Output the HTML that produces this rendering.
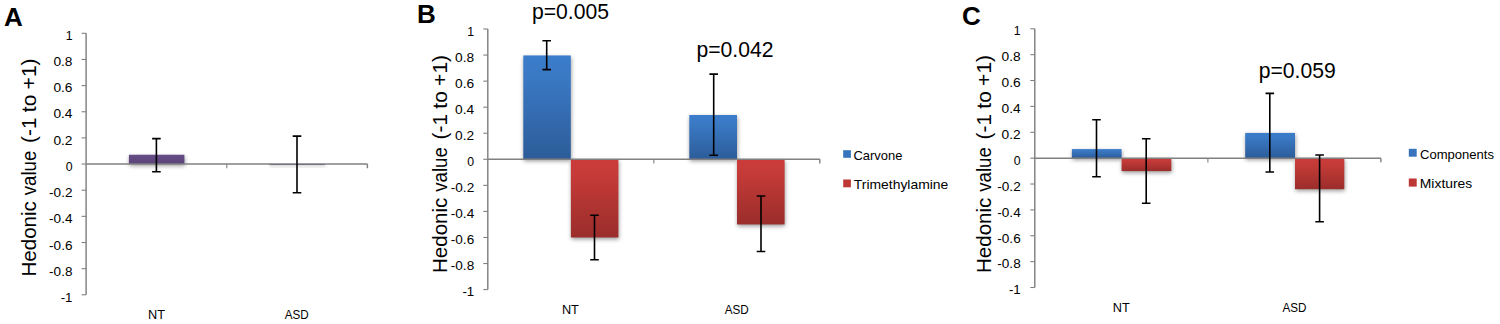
<!DOCTYPE html>
<html lang="en">
<head>
<meta charset="utf-8">
<title>Hedonic value charts</title>
<style>
html,body{margin:0;padding:0;background:#fff;}
body{width:1500px;height:324px;overflow:hidden;}
svg{display:block;}
text{font-family:"Liberation Sans",sans-serif;fill:#000;}
.pl{font-size:26px;font-weight:bold;}
.tk{font-size:12.3px;}
.ct{font-size:12.6px;}
.yt{font-size:19.7px;}
.pv{font-size:21.4px;}
.lg{font-size:13.3px;}
.ax{stroke:#808080;stroke-width:1.45;fill:none;}
.tkm{stroke:#808080;stroke-width:1.1;fill:none;}
.eb{stroke:#000;stroke-width:1.6;fill:none;}
</style>
</head>
<body>
<svg width="1500" height="324" viewBox="0 0 1500 324">
<defs>
<linearGradient id="gb" x1="0" y1="0" x2="0" y2="1"><stop offset="0" stop-color="#3b7dcb"/><stop offset="0.2" stop-color="#3a79c4"/><stop offset="1" stop-color="#2c5c99"/></linearGradient>
<linearGradient id="gr" x1="0" y1="0" x2="0" y2="1"><stop offset="0" stop-color="#cb3c39"/><stop offset="0.2" stop-color="#c53b38"/><stop offset="1" stop-color="#9a2d2b"/></linearGradient>
<linearGradient id="gp" x1="0" y1="0" x2="0" y2="1"><stop offset="0" stop-color="#654c86"/><stop offset="1" stop-color="#5b437a"/></linearGradient>
<filter id="sh" x="-20%" y="-50%" width="140%" height="200%"><feGaussianBlur stdDeviation="1.9"/></filter>
</defs>
<rect width="1500" height="324" fill="#fff"/>

<text x="4" y="26.3" class="pl">A</text>
<rect x="129.4" y="156.57" width="55.5" height="9.28" fill="#000" opacity="0.4" filter="url(#sh)"/>
<rect x="269.9" y="165.85" width="55.6" height="1.05" fill="#000" opacity="0.4" filter="url(#sh)"/>
<rect x="128.9" y="154.77" width="55.5" height="9.28" fill="url(#gp)"/>
<rect x="269.4" y="164.05" width="55.6" height="1.05" fill="url(#gp)"/>
<path d="M86.1 33.3V294.8" class="ax"/>
<path d="M86.1 164.05H367.5" class="ax"/>
<path d="M81.6 33.3H86.1" class="tkm"/>
<text x="72.5" y="39.7" class="tk" text-anchor="end">1</text>
<path d="M81.6 59.45H86.1" class="tkm"/>
<text x="72.5" y="65.95" class="tk" text-anchor="end" textLength="19.1" lengthAdjust="spacingAndGlyphs">0.8</text>
<path d="M81.6 85.6H86.1" class="tkm"/>
<text x="72.5" y="92.2" class="tk" text-anchor="end" textLength="19.1" lengthAdjust="spacingAndGlyphs">0.6</text>
<path d="M81.6 111.75H86.1" class="tkm"/>
<text x="72.5" y="118.45" class="tk" text-anchor="end" textLength="19.1" lengthAdjust="spacingAndGlyphs">0.4</text>
<path d="M81.6 137.9H86.1" class="tkm"/>
<text x="72.5" y="144.7" class="tk" text-anchor="end" textLength="19.1" lengthAdjust="spacingAndGlyphs">0.2</text>
<path d="M81.6 164.05H86.1" class="tkm"/>
<text x="72.5" y="170.95" class="tk" text-anchor="end">0</text>
<path d="M81.6 190.2H86.1" class="tkm"/>
<text x="72.5" y="197.2" class="tk" text-anchor="end" textLength="23.4" lengthAdjust="spacingAndGlyphs">-0.2</text>
<path d="M81.6 216.35H86.1" class="tkm"/>
<text x="72.5" y="223.45" class="tk" text-anchor="end" textLength="23.4" lengthAdjust="spacingAndGlyphs">-0.4</text>
<path d="M81.6 242.5H86.1" class="tkm"/>
<text x="72.5" y="249.7" class="tk" text-anchor="end" textLength="23.4" lengthAdjust="spacingAndGlyphs">-0.6</text>
<path d="M81.6 268.65H86.1" class="tkm"/>
<text x="72.5" y="275.95" class="tk" text-anchor="end" textLength="23.4" lengthAdjust="spacingAndGlyphs">-0.8</text>
<path d="M81.6 294.8H86.1" class="tkm"/>
<text x="72.5" y="302.2" class="tk" text-anchor="end" textLength="11.8" lengthAdjust="spacingAndGlyphs">-1</text>
<path d="M226.8 164.05V168.35" class="tkm"/>
<path d="M367.4 164.05V168.25" class="ax"/>
<path d="M156.4 138.6V171.7M152.1 138.6H160.7M152.1 171.7H160.7" class="eb"/>
<path d="M297 136.1V192.8M292.7 136.1H301.3M292.7 192.8H301.3" class="eb"/>
<text x="156.5" y="319" class="ct" text-anchor="middle" textLength="17" lengthAdjust="spacingAndGlyphs">NT</text>
<text x="296.8" y="319" class="ct" text-anchor="middle" textLength="24" lengthAdjust="spacingAndGlyphs">ASD</text>
<text transform="translate(36.2 275) rotate(-90)" x="-1.6" y="0" class="yt" textLength="75.5" lengthAdjust="spacingAndGlyphs">Hedonic</text>
<text transform="translate(36.2 275) rotate(-90)" x="79.8" y="0" class="yt" textLength="44.5" lengthAdjust="spacingAndGlyphs">value</text>
<text transform="translate(36.2 275) rotate(-90)" x="132" y="0" class="yt" textLength="25.5" lengthAdjust="spacingAndGlyphs">(-1</text>
<text transform="translate(36.2 275) rotate(-90)" x="162.8" y="0" class="yt" textLength="17.5" lengthAdjust="spacingAndGlyphs">to</text>
<text transform="translate(36.2 275) rotate(-90)" x="185.6" y="0" class="yt" textLength="31" lengthAdjust="spacingAndGlyphs">+1)</text>
<text x="417" y="22.8" class="pl">B</text>
<rect x="523.8" y="57.25" width="47.5" height="103.85" fill="#000" opacity="0.4" filter="url(#sh)"/>
<rect x="571.4" y="161.1" width="47.5" height="78.18" fill="#000" opacity="0.4" filter="url(#sh)"/>
<rect x="689.8" y="116.8" width="47.7" height="44.3" fill="#000" opacity="0.4" filter="url(#sh)"/>
<rect x="737.5" y="161.1" width="47.6" height="65.15" fill="#000" opacity="0.4" filter="url(#sh)"/>
<rect x="523.3" y="55.45" width="47.5" height="103.85" fill="url(#gb)"/>
<rect x="570.9" y="159.3" width="47.5" height="78.18" fill="url(#gr)"/>
<rect x="689.3" y="115" width="47.7" height="44.3" fill="url(#gb)"/>
<rect x="737" y="159.3" width="47.6" height="65.15" fill="url(#gr)"/>
<path d="M487.8 29V289.6" class="ax"/>
<path d="M487.8 159.3H819.9" class="ax"/>
<path d="M483.3 29H487.8" class="tkm"/>
<text x="474.2" y="36" class="tk" text-anchor="end">1</text>
<path d="M483.3 55.06H487.8" class="tkm"/>
<text x="474.2" y="62.04" class="tk" text-anchor="end" textLength="19.1" lengthAdjust="spacingAndGlyphs">0.8</text>
<path d="M483.3 81.12H487.8" class="tkm"/>
<text x="474.2" y="88.07" class="tk" text-anchor="end" textLength="19.1" lengthAdjust="spacingAndGlyphs">0.6</text>
<path d="M483.3 107.18H487.8" class="tkm"/>
<text x="474.2" y="114.11" class="tk" text-anchor="end" textLength="19.1" lengthAdjust="spacingAndGlyphs">0.4</text>
<path d="M483.3 133.24H487.8" class="tkm"/>
<text x="474.2" y="140.14" class="tk" text-anchor="end" textLength="19.1" lengthAdjust="spacingAndGlyphs">0.2</text>
<path d="M483.3 159.3H487.8" class="tkm"/>
<text x="474.2" y="166.18" class="tk" text-anchor="end">0</text>
<path d="M483.3 185.36H487.8" class="tkm"/>
<text x="474.2" y="192.21" class="tk" text-anchor="end" textLength="23.4" lengthAdjust="spacingAndGlyphs">-0.2</text>
<path d="M483.3 211.42H487.8" class="tkm"/>
<text x="474.2" y="218.25" class="tk" text-anchor="end" textLength="23.4" lengthAdjust="spacingAndGlyphs">-0.4</text>
<path d="M483.3 237.48H487.8" class="tkm"/>
<text x="474.2" y="244.28" class="tk" text-anchor="end" textLength="23.4" lengthAdjust="spacingAndGlyphs">-0.6</text>
<path d="M483.3 263.54H487.8" class="tkm"/>
<text x="474.2" y="270.31" class="tk" text-anchor="end" textLength="23.4" lengthAdjust="spacingAndGlyphs">-0.8</text>
<path d="M483.3 289.6H487.8" class="tkm"/>
<text x="474.2" y="296.35" class="tk" text-anchor="end" textLength="11.8" lengthAdjust="spacingAndGlyphs">-1</text>
<path d="M653.85 159.3V163.6" class="tkm"/>
<path d="M819.8 159.3V163.5" class="ax"/>
<path d="M546.7 40.8V69.6M542.4 40.8H551M542.4 69.6H551" class="eb"/>
<path d="M594.5 215.2V259.7M590.2 215.2H598.8M590.2 259.7H598.8" class="eb"/>
<path d="M713.7 74.1V155.3M709.4 74.1H718M709.4 155.3H718" class="eb"/>
<path d="M761 196V251.5M756.7 196H765.3M756.7 251.5H765.3" class="eb"/>
<text x="570.4" y="314.3" class="ct" text-anchor="middle" textLength="17" lengthAdjust="spacingAndGlyphs">NT</text>
<text x="736.7" y="314.3" class="ct" text-anchor="middle" textLength="24" lengthAdjust="spacingAndGlyphs">ASD</text>
<text transform="translate(446.9 271.5) rotate(-90)" x="-1.6" y="0" class="yt" textLength="75.5" lengthAdjust="spacingAndGlyphs">Hedonic</text>
<text transform="translate(446.9 271.5) rotate(-90)" x="79.8" y="0" class="yt" textLength="44.5" lengthAdjust="spacingAndGlyphs">value</text>
<text transform="translate(446.9 271.5) rotate(-90)" x="132" y="0" class="yt" textLength="25.5" lengthAdjust="spacingAndGlyphs">(-1</text>
<text transform="translate(446.9 271.5) rotate(-90)" x="162.8" y="0" class="yt" textLength="17.5" lengthAdjust="spacingAndGlyphs">to</text>
<text transform="translate(446.9 271.5) rotate(-90)" x="185.6" y="0" class="yt" textLength="31" lengthAdjust="spacingAndGlyphs">+1)</text>
<text x="962" y="25.3" class="pl">C</text>
<rect x="1072.4" y="150.9" width="49.7" height="9.05" fill="#000" opacity="0.4" filter="url(#sh)"/>
<rect x="1122.1" y="159.95" width="49.7" height="12.94" fill="#000" opacity="0.4" filter="url(#sh)"/>
<rect x="1245.7" y="134.73" width="49.8" height="25.22" fill="#000" opacity="0.4" filter="url(#sh)"/>
<rect x="1295.5" y="159.95" width="49.3" height="31.04" fill="#000" opacity="0.4" filter="url(#sh)"/>
<rect x="1071.9" y="149.1" width="49.7" height="9.05" fill="url(#gb)"/>
<rect x="1121.6" y="158.15" width="49.7" height="12.94" fill="url(#gr)"/>
<rect x="1245.2" y="132.93" width="49.8" height="25.22" fill="url(#gb)"/>
<rect x="1295" y="158.15" width="49.3" height="31.04" fill="url(#gr)"/>
<path d="M1034.8 28.8V287.5" class="ax"/>
<path d="M1034.8 158.15H1381" class="ax"/>
<path d="M1030.3 28.8H1034.8" class="tkm"/>
<text x="1020.7" y="35.45" class="tk" text-anchor="end">1</text>
<path d="M1030.3 54.67H1034.8" class="tkm"/>
<text x="1020.7" y="61.34" class="tk" text-anchor="end" textLength="19.1" lengthAdjust="spacingAndGlyphs">0.8</text>
<path d="M1030.3 80.54H1034.8" class="tkm"/>
<text x="1020.7" y="87.22" class="tk" text-anchor="end" textLength="19.1" lengthAdjust="spacingAndGlyphs">0.6</text>
<path d="M1030.3 106.41H1034.8" class="tkm"/>
<text x="1020.7" y="113.1" class="tk" text-anchor="end" textLength="19.1" lengthAdjust="spacingAndGlyphs">0.4</text>
<path d="M1030.3 132.28H1034.8" class="tkm"/>
<text x="1020.7" y="138.99" class="tk" text-anchor="end" textLength="19.1" lengthAdjust="spacingAndGlyphs">0.2</text>
<path d="M1030.3 158.15H1034.8" class="tkm"/>
<text x="1020.7" y="164.88" class="tk" text-anchor="end">0</text>
<path d="M1030.3 184.02H1034.8" class="tkm"/>
<text x="1020.7" y="190.76" class="tk" text-anchor="end" textLength="23.4" lengthAdjust="spacingAndGlyphs">-0.2</text>
<path d="M1030.3 209.89H1034.8" class="tkm"/>
<text x="1020.7" y="216.64" class="tk" text-anchor="end" textLength="23.4" lengthAdjust="spacingAndGlyphs">-0.4</text>
<path d="M1030.3 235.76H1034.8" class="tkm"/>
<text x="1020.7" y="242.53" class="tk" text-anchor="end" textLength="23.4" lengthAdjust="spacingAndGlyphs">-0.6</text>
<path d="M1030.3 261.63H1034.8" class="tkm"/>
<text x="1020.7" y="268.42" class="tk" text-anchor="end" textLength="23.4" lengthAdjust="spacingAndGlyphs">-0.8</text>
<path d="M1030.3 287.5H1034.8" class="tkm"/>
<text x="1020.7" y="294.3" class="tk" text-anchor="end" textLength="11.8" lengthAdjust="spacingAndGlyphs">-1</text>
<path d="M1207.9 158.15V162.45" class="tkm"/>
<path d="M1380.9 158.15V162.35" class="ax"/>
<path d="M1096.5 119.8V176.8M1092.2 119.8H1100.8M1092.2 176.8H1100.8" class="eb"/>
<path d="M1146.2 138.8V203.2M1141.9 138.8H1150.5M1141.9 203.2H1150.5" class="eb"/>
<path d="M1269.8 93.4V172M1265.5 93.4H1274.1M1265.5 172H1274.1" class="eb"/>
<path d="M1319.6 155V221.8M1315.3 155H1323.9M1315.3 221.8H1323.9" class="eb"/>
<text x="1121.2" y="312.4" class="ct" text-anchor="middle" textLength="17" lengthAdjust="spacingAndGlyphs">NT</text>
<text x="1294.4" y="312.4" class="ct" text-anchor="middle" textLength="24" lengthAdjust="spacingAndGlyphs">ASD</text>
<text transform="translate(991.3 271.5) rotate(-90)" x="-1.6" y="0" class="yt" textLength="75.5" lengthAdjust="spacingAndGlyphs">Hedonic</text>
<text transform="translate(991.3 271.5) rotate(-90)" x="79.8" y="0" class="yt" textLength="44.5" lengthAdjust="spacingAndGlyphs">value</text>
<text transform="translate(991.3 271.5) rotate(-90)" x="132" y="0" class="yt" textLength="25.5" lengthAdjust="spacingAndGlyphs">(-1</text>
<text transform="translate(991.3 271.5) rotate(-90)" x="162.8" y="0" class="yt" textLength="17.5" lengthAdjust="spacingAndGlyphs">to</text>
<text transform="translate(991.3 271.5) rotate(-90)" x="185.6" y="0" class="yt" textLength="31" lengthAdjust="spacingAndGlyphs">+1)</text>
<text x="532" y="18.6" class="pv" textLength="77" lengthAdjust="spacingAndGlyphs">p=0.005</text>
<text x="696.5" y="57.2" class="pv" textLength="77" lengthAdjust="spacingAndGlyphs">p=0.042</text>
<text x="1258.7" y="77.6" class="pv" textLength="77" lengthAdjust="spacingAndGlyphs">p=0.059</text>
<rect x="843.2" y="150.2" width="7.7" height="7.6" fill="#3674bd"/>
<rect x="843.2" y="179.5" width="7.7" height="7.8" fill="#bd3734"/>
<text x="853.4" y="159.6" class="lg" textLength="49" lengthAdjust="spacingAndGlyphs">Carvone</text>
<text x="853.8" y="189.3" class="lg" textLength="94.5" lengthAdjust="spacingAndGlyphs">Trimethylamine</text>
<rect x="1408.8" y="148.8" width="7.9" height="7.9" fill="#3674bd"/>
<rect x="1408.8" y="178.5" width="7.9" height="8.1" fill="#bd3734"/>
<text x="1420" y="158.9" class="lg" textLength="74" lengthAdjust="spacingAndGlyphs">Components</text>
<text x="1419.8" y="188.3" class="lg" textLength="52.5" lengthAdjust="spacingAndGlyphs">Mixtures</text>
</svg>
</body>
</html>
